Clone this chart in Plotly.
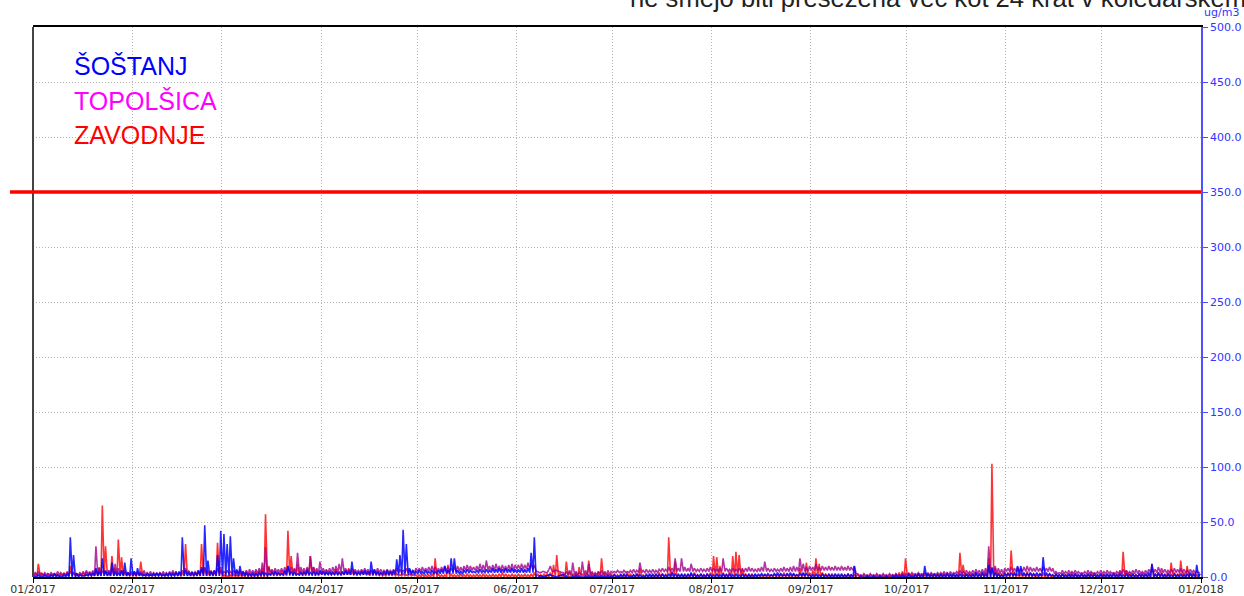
import pandas as pd
import plotly.graph_objects as go

# Daily peak values (ug/m3), 2017-01-01 .. 2017-12-31
zavodnje = [
    3,12,4,2,3,2,3,2,3,4,5,10,4,3,3,4,5,4,3,6,9,65,28,6,19,8,34,18,6,4,3,
    3,4,14,3,2,3,2,3,4,3,2,3,4,5,3,4,30,6,3,4,5,30,8,4,6,5,31,9,
    2,1,2,3,2,4,3,5,4,3,5,6,8,57,10,6,5,4,6,5,42,19,7,12,6,5,8,19,9,6,5,
    5,6,4,5,7,5,4,6,8,5,4,5,6,5,4,6,7,5,4,3,4,5,4,3,2,3,2,3,2,2,
    2,3,2,2,3,17,3,2,2,11,3,2,2,3,2,3,2,2,3,2,3,2,2,3,2,3,4,3,2,3,2,
    3,2,3,2,3,4,3,2,3,3,4,11,20,4,3,14,5,3,4,9,3,4,15,4,3,5,17,4,3,3,
    3,2,3,2,4,3,2,3,8,2,3,2,3,2,4,3,2,36,5,14,3,2,3,2,3,4,2,3,2,3,4,
    19,18,10,4,3,5,19,23,20,8,3,2,3,2,3,2,3,2,2,3,2,3,4,3,2,3,2,8,3,13,4,
    6,17,12,4,3,2,3,2,3,2,2,3,2,2,3,1,2,1,2,1,2,1,2,1,2,2,3,4,5,17,
    4,3,2,3,2,3,4,3,2,3,2,3,4,3,2,3,22,11,3,4,3,4,3,4,5,17,103,8,4,3,5,
    4,24,5,3,4,3,5,4,3,2,3,4,2,3,2,3,2,3,2,3,4,3,2,3,2,3,4,3,2,3,
    3,2,3,4,3,5,23,6,4,3,2,3,4,3,2,12,3,4,5,3,4,13,4,3,15,4,10,3,4,2,3,
]
topolsica = [
    4,5,3,4,3,4,3,5,4,3,4,5,4,3,4,5,6,5,6,28,8,6,5,6,7,12,8,6,5,4,5,
    5,4,5,6,4,5,4,3,4,5,4,5,6,5,4,6,8,5,4,5,6,7,9,6,5,6,8,5,
    5,6,5,6,7,6,5,6,7,6,7,8,13,27,9,7,8,7,8,9,10,9,8,22,9,8,9,19,9,8,14,
    8,7,8,9,10,12,17,8,7,8,7,6,7,8,7,6,7,8,7,6,7,6,7,8,7,6,8,7,6,8,
    8,9,8,9,10,9,8,9,10,9,8,9,10,9,10,11,10,9,10,12,11,15,10,11,12,10,11,10,11,12,11,
    11,12,11,13,12,11,5,4,5,4,10,5,6,5,4,5,6,13,5,4,14,6,12,5,4,5,6,5,6,5,
    5,6,5,6,5,6,7,6,13,6,7,6,7,6,7,8,7,9,8,17,8,17,9,8,12,8,7,8,7,8,9,
    8,7,8,17,8,7,8,7,8,7,8,9,8,7,8,9,14,8,7,8,7,8,9,8,9,10,9,17,12,9,10,
    9,12,9,10,9,10,9,10,9,10,9,10,9,10,3,2,3,2,3,2,3,2,3,2,3,2,3,2,3,3,
    3,4,3,4,3,4,3,4,3,4,4,5,4,5,4,5,6,5,6,5,6,7,6,7,8,28,9,10,8,7,8,
    8,9,8,9,8,9,10,9,8,9,8,9,8,9,8,5,4,6,5,6,5,6,5,4,5,6,5,4,5,6,
    5,6,5,4,5,6,7,6,5,6,7,6,5,6,7,8,7,9,8,7,6,7,8,7,8,7,6,7,6,5,4,
]
sostanj = [
    1,2,1,2,1,2,3,2,1,2,3,36,20,3,2,1,2,3,4,8,5,17,6,4,13,5,4,6,13,4,17,
    5,8,3,2,3,2,3,4,3,2,3,4,3,4,5,36,6,4,5,4,6,9,47,15,5,6,20,42,
    39,30,37,17,6,10,5,4,3,4,3,4,5,4,3,4,5,4,3,6,10,5,4,3,4,5,6,4,5,4,6,
    5,4,5,4,5,4,5,6,5,14,5,4,5,6,5,14,6,5,4,5,6,5,6,16,20,43,30,8,6,5,
    6,5,6,5,6,5,6,7,10,6,17,17,6,5,6,7,6,5,6,7,6,7,6,8,7,8,7,8,7,8,7,
    7,8,7,8,22,36,-3,1,0,1,2,1,0,1,2,1,0,1,2,1,0,1,2,1,2,1,2,1,2,1,
    2,1,2,3,2,1,2,3,2,1,2,3,2,3,2,3,2,3,4,3,2,3,2,3,4,3,2,3,2,3,2,
    2,3,2,3,2,3,2,3,2,3,2,3,2,3,2,3,2,3,2,3,4,3,2,3,4,3,2,3,4,3,2,
    2,3,2,3,2,3,2,3,2,3,2,3,2,10,-3,1,0,1,0,1,0,1,0,1,0,1,2,1,2,1,
    2,1,2,3,2,10,3,2,3,2,3,2,3,2,3,2,3,2,3,2,3,4,3,4,3,11,8,4,3,2,3,
    3,4,3,10,10,4,3,4,3,4,3,18,4,3,2,3,2,3,2,3,2,3,2,3,2,3,2,3,2,3,
    2,3,2,3,2,3,2,3,2,3,2,3,2,3,4,12,3,4,3,2,3,2,3,2,3,2,3,4,3,11,3,
]
# Typical low readings per half-month (1st-15th, 16th-end)
zavodnje_low = [1,1, 1,1, 0,1, 2,1, 0,0, 0,0, 0,0, 0,0, 0,0, 0,0, 0,0, 0,0]
topolsica_low = [2,2, 2,3, 3,4, 4,4, 5,6, 7,2, 4,5, 5,5, 6,1, 2,3, 5,3, 3,4]
sostanj_low = [0,1, 1,1, 1,2, 2,2, 3,4, 4,-1, 0,0, 0,1, 0,-1, 0,0, 1,0, 0,0]

limit_value = 350
station_names = ["ŠOŠTANJ", "TOPOLŠICA", "ZAVODNJE"]
station_colors = ["#0000ff", "#ff00ff", "#ff0000"]
title_text = "ne smejo biti presežena več kot 24 krat v koledarskem letu"
unit_text = "ug/m3"

days = pd.date_range("2017-01-01", periods=len(zavodnje), freq="D")


def hourly_band(peaks, lows):
    xs, ys = [], []
    for d, v in zip(days, peaks):
        seg = (d.month - 1) * 2 + (0 if d.day <= 15 else 1)
        xs.append(d + pd.Timedelta(hours=6))
        ys.append(min(v, lows[seg]))
        xs.append(d + pd.Timedelta(hours=16))
        ys.append(v)
    return xs, ys


fig = go.Figure()
for peaks, lows, col in [
    (zavodnje, zavodnje_low, "rgba(255,0,0,0.8)"),
    (topolsica, topolsica_low, "rgba(160,0,140,0.8)"),
    (sostanj, sostanj_low, "rgba(0,0,255,0.85)"),
]:
    xs, ys = hourly_band(peaks, lows)
    fig.add_trace(go.Scatter(x=xs, y=ys, mode="lines",
                             line=dict(color=col, width=1.6)))

fig.update_layout(
    width=1244, height=596,
    margin=dict(l=33, r=43, t=27, b=19),
    paper_bgcolor="white", plot_bgcolor="white",
    showlegend=False,
    font=dict(family="DejaVu Sans", size=11, color="#333333"),
    xaxis=dict(
        type="date", range=["2017-01-01", "2018-01-01"],
        dtick="M1", tick0="2017-01-01", tickformat="%m/%Y",
        ticks="outside", ticklen=4, tickcolor="#000000",
        ticklabelstandoff=-3,
        showgrid=True, gridcolor="#b4b4b4", griddash="1px,2px", gridwidth=1,
        showline=True, linecolor="#000000", linewidth=1.5, mirror=True,
        tickfont=dict(family="DejaVu Sans", size=11, color="#333333"),
        zeroline=False, automargin=False,
    ),
    yaxis=dict(
        side="right", range=[0, 500], dtick=50, tickformat=".1f",
        ticks="outside", ticklen=5, tickcolor="#5050ff",
        showgrid=True, gridcolor="#b4b4b4", griddash="1px,2px", gridwidth=1,
        showline=True, linecolor="#5050ff", linewidth=1.5,
        tickfont=dict(family="DejaVu Sans", size=11, color="#3333ff"),
        zeroline=False, automargin=False,
    ),
)

# left border of the plot
fig.add_shape(type="line", xref="paper", yref="paper", x0=0, x1=0, y0=0, y1=1,
              line=dict(color="#444444", width=2))
# limit value line
fig.add_shape(type="line", xref="paper", yref="y", x0=-0.0197, x1=1,
              y0=limit_value, y1=limit_value,
              line=dict(color="#ff0000", width=3.5))

# legend labels
legend_y = [0.929, 0.8655, 0.8036]
for name, col, yy in zip(station_names, station_colors, legend_y):
    fig.add_annotation(text=name, xref="paper", yref="paper", x=0.0335, y=yy,
                       xanchor="left", yanchor="middle", showarrow=False,
                       font=dict(family="Liberation Sans", size=25, color=col))

# partially visible title
fig.add_annotation(text=title_text, xref="paper", yref="paper",
                   x=(628 - 33) / 1168, y=1.0236, xanchor="left", yanchor="bottom",
                   showarrow=False,
                   font=dict(family="Liberation Sans", size=25.6, color="#222222"))
# unit label
fig.add_annotation(text=unit_text, xref="paper", yref="paper",
                   x=1.0, xshift=1, y=1.0, yshift=6, xanchor="left", yanchor="bottom",
                   showarrow=False,
                   font=dict(family="DejaVu Sans", size=11, color="#3333ff"))

fig.write_html(
    "out.html",
    config={"displayModeBar": False},
    post_script="document.body.style.margin='0px';document.body.style.overflow='hidden';",
)
